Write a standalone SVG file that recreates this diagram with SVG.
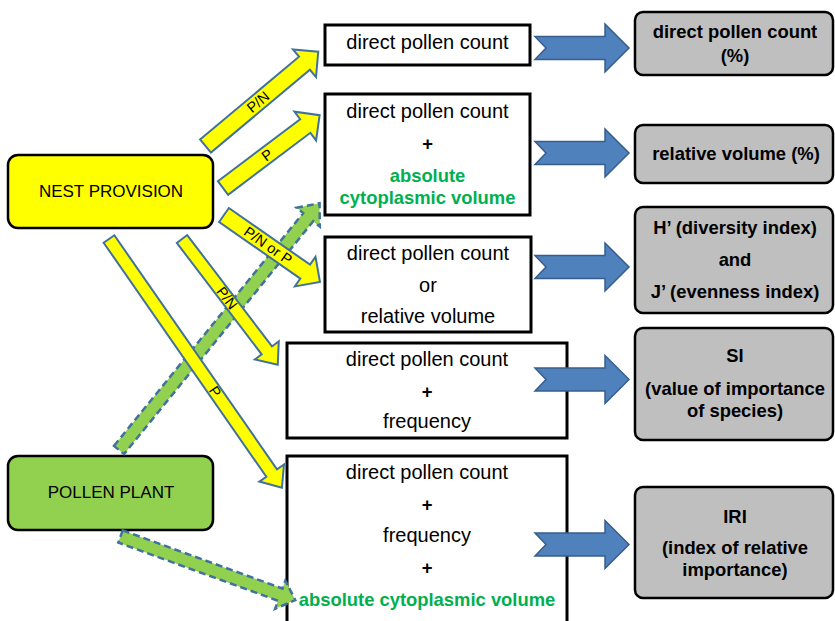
<svg xmlns="http://www.w3.org/2000/svg" width="835" height="621" viewBox="0 0 835 621">
<style>
text{font-family:"Liberation Sans",Arial,sans-serif;text-anchor:middle;fill:#000}
.src{stroke:#000;stroke-width:2.5}
.box{fill:#fff;stroke:#000;stroke-width:3}
.res{fill:#BFBFBF;stroke:#000;stroke-width:2.5}
.t{font-size:20px}
.b{font-size:18.4px;font-weight:bold}
.g{fill:#00B050}
.n{font-size:17px}
.lbl{font-size:14.5px}
.ya{fill:#FFFF00;stroke:#41719C;stroke-width:2;stroke-linejoin:miter}
.ga{fill:#92D050;stroke:#41719C;stroke-width:2.5;stroke-dasharray:7,4}
.ba{fill:#4F81BD;stroke:#385D8A;stroke-width:1.5}
</style>
<g id="nest-provision">
<rect class="src" x="8" y="155" width="205" height="73" rx="10" fill="#FFFF00"/>
<text class="n" x="111" y="197">NEST PROVISION</text>
</g>
<g id="pollen-plant">
<rect class="src" x="8" y="456" width="205" height="74" rx="10" fill="#92D050"/>
<text class="n" x="111" y="498">POLLEN PLANT</text>
</g>
<g id="m1">
<rect class="box" x="325" y="25" width="205" height="40"/>
<text class="t" x="427.5" y="49">direct pollen count</text>
</g>
<g id="m2">
<rect class="box" x="325" y="94" width="205" height="121"/>
<text class="t" x="427.5" y="118">direct pollen count</text>
<text class="b" x="427.5" y="150">+</text>
<text class="b g" x="427.5" y="182">absolute</text>
<text class="b g" x="427.5" y="204">cytoplasmic volume</text>
</g>
<g id="m3">
<rect class="box" x="325" y="237" width="206" height="95"/>
<text class="t" x="428" y="260">direct pollen count</text>
<text class="t" x="428" y="292">or</text>
<text class="t" x="428" y="323">relative volume</text>
</g>
<g id="m4">
<rect class="box" x="287" y="343" width="280" height="95"/>
<text class="t" x="427" y="366">direct pollen count</text>
<text class="b" x="427" y="398">+</text>
<text class="t" x="427" y="428">frequency</text>
</g>
<g id="m5">
<rect class="box" x="287" y="456" width="280" height="180"/>
<text class="t" x="427" y="479">direct pollen count</text>
<text class="b" x="427" y="511">+</text>
<text class="t" x="427" y="542">frequency</text>
<text class="b" x="427" y="574">+</text>
<text class="b g" x="427" y="606">absolute cytoplasmic volume</text>
</g>
<g id="r1">
<rect class="res" x="635" y="12" width="198" height="63" rx="8"/>
<text class="b" x="735" y="38">direct pollen count</text>
<text class="b" x="735" y="62">(%)</text>
</g>
<g id="r2">
<rect class="res" x="635" y="125" width="198" height="58" rx="8"/>
<text class="b" x="736" y="160">relative volume (%)</text>
</g>
<g id="r3">
<rect class="res" x="635" y="207" width="198" height="106" rx="8"/>
<text class="b" x="735" y="234">H’ (diversity index)</text>
<text class="b" x="735" y="266">and</text>
<text class="b" x="735" y="298">J’ (evenness index)</text>
</g>
<g id="r4">
<rect class="res" x="635" y="328" width="198" height="112" rx="8"/>
<text class="b" x="735" y="362">SI</text>
<text class="b" x="735" y="395">(value of importance</text>
<text class="b" x="735" y="417">of species)</text>
</g>
<g id="r5">
<rect class="res" x="635" y="487" width="198" height="111" rx="8"/>
<text class="b" x="735" y="523">IRI</text>
<text class="b" x="735" y="554">(index of relative</text>
<text class="b" x="735" y="576">importance)</text>
</g>
<g id="connectors">
<path class="ga" transform="translate(119,450) rotate(-50.9)" d="M0,-6.5 L300,-6.5 L300,-15 L318,0 L300,15 L300,6.5 L0,6.5 Z"/>
<path class="ga" transform="translate(120.5,536.5) rotate(20)" d="M0,-6.5 L170,-6.5 L170,-15 L186,0 L170,15 L170,6.5 L0,6.5 Z"/>
<path class="ya" transform="translate(205.5,146) rotate(-39.9)" d="M0,-8.5 L129,-8.5 L129,-18 L147,0 L129,18 L129,8.5 L0,8.5 Z"/>
<path class="ya" transform="translate(223,188) rotate(-37)" d="M0,-8.5 L103,-8.5 L103,-18 L121,0 L103,18 L103,8.5 L0,8.5 Z"/>
<path class="ya" transform="translate(224,215) rotate(34.9)" d="M0,-8.5 L99,-8.5 L99,-18 L117,0 L99,18 L99,8.5 L0,8.5 Z"/>
<path class="ya" transform="translate(182,239) rotate(52.7)" d="M0,-6.5 L140,-6.5 L140,-15 L158,0 L140,15 L140,6.5 L0,6.5 Z"/>
<path class="ya" transform="translate(109,239) rotate(55.2)" d="M0,-6.5 L285,-6.5 L285,-15 L303,0 L285,15 L285,6.5 L0,6.5 Z"/>
<text class="lbl" transform="translate(258,102) rotate(-39.9)" y="5">P/N</text>
<text class="lbl" transform="translate(267,155) rotate(-37)" y="5">P</text>
<text class="lbl" transform="translate(268,245.5) rotate(34.9)" y="5">P/N or P</text>
<text class="lbl" transform="translate(227,298) rotate(52.7)" y="5">P/N</text>
<text class="lbl" transform="translate(215,391.5) rotate(55.2)" y="5">P</text>
<path class="ba" d="M535,36.5 L605,36.5 L605,24 L629,48 L605,72 L605,59.5 L535,59.5 L546,48 Z"/>
<path class="ba" d="M535,141.5 L605,141.5 L605,129 L629,153 L605,177 L605,164.5 L535,164.5 L546,153 Z"/>
<path class="ba" d="M535,255.5 L605,255.5 L605,243 L629,267 L605,291 L605,278.5 L535,278.5 L546,267 Z"/>
<path class="ba" d="M535,368 L605,368 L605,355.5 L629,379.5 L605,403.5 L605,391 L535,391 L546,379.5 Z"/>
<path class="ba" d="M535,533 L605,533 L605,520.5 L629,544.5 L605,568.5 L605,556 L535,556 L546,544.5 Z"/>
</g>
</svg>
